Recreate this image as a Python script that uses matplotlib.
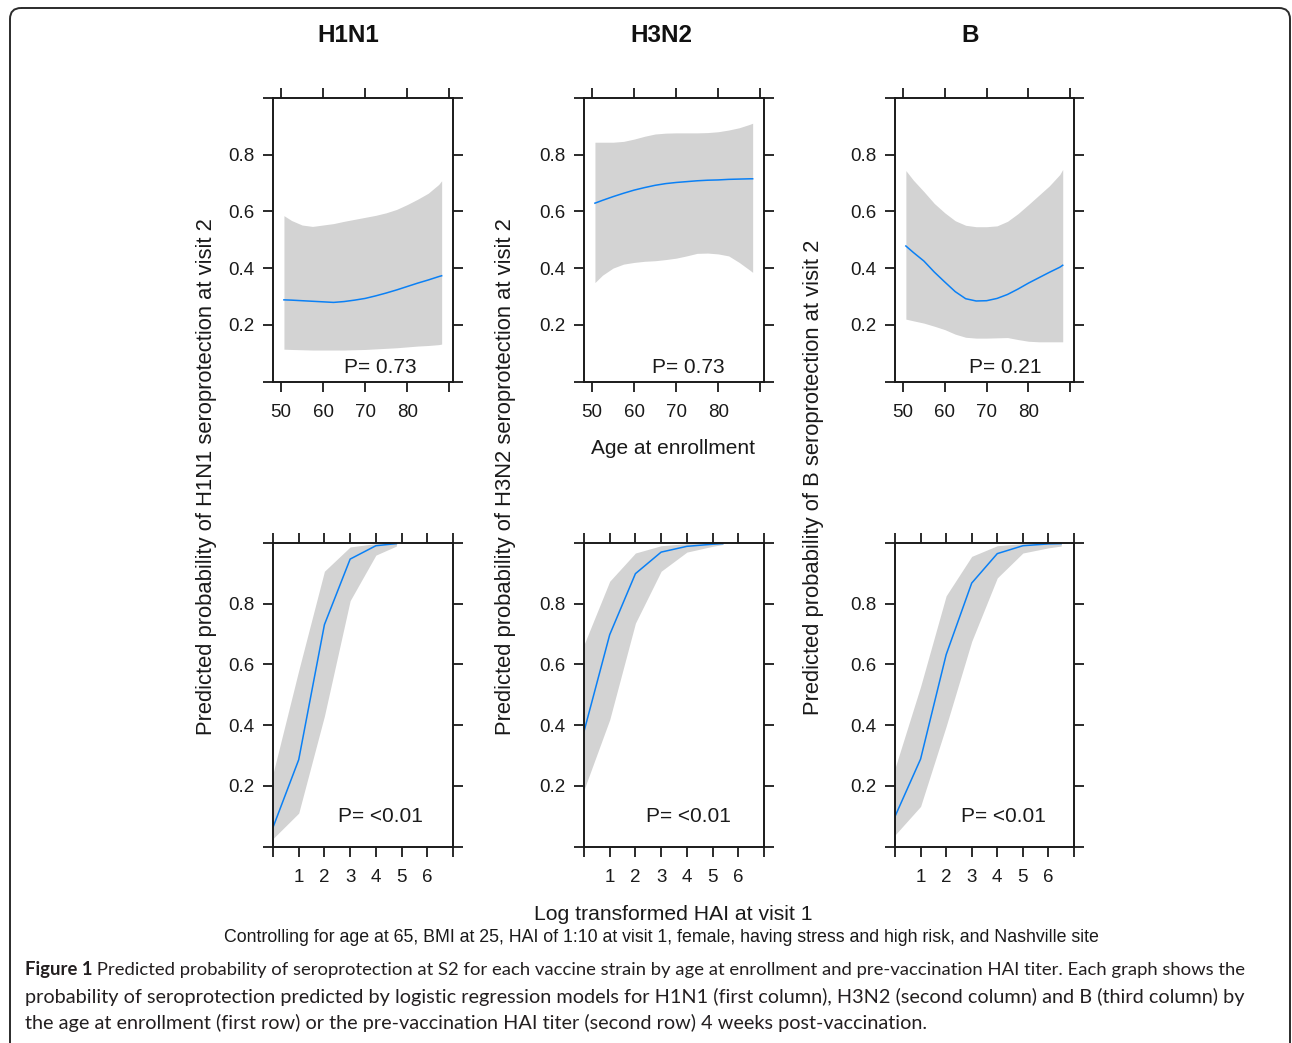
import matplotlib
matplotlib.use('Agg')
import matplotlib.pyplot as plt
from matplotlib.patches import FancyBboxPatch
from matplotlib import font_manager as fm

# ---------------- data ----------------
strains = ['H1N1', 'H3N2', 'B']
p_age = ['P= 0.73', 'P= 0.73', 'P= 0.21']
p_hai = ['P= <0.01', 'P= <0.01', 'P= <0.01']

age_ticks = [50, 60, 70, 80, 90]
age_ticklabels = ['50', '60', '70', '80', '']
hai_ticks = [0, 1, 2, 3, 4, 5, 6, 7]
hai_ticklabels = ['', '1', '2', '3', '4', '5', '6', '']
prob_ticks = [0.0, 0.2, 0.4, 0.6, 0.8, 1.0]
prob_ticklabels = ['', '0.2', '0.4', '0.6', '0.8', '']

age_x = [50.7, 52.5, 55, 57.5, 60, 62.5, 65, 67.5, 70, 72.5, 75, 77.5, 80, 82.5, 85, 87.5, 88.2]
h1n1_age_fit = [0.288, 0.287, 0.285, 0.283, 0.281, 0.279, 0.282, 0.287, 0.293, 0.302, 0.312, 0.323,
                0.335, 0.347, 0.358, 0.370, 0.373]
h1n1_age_lo = [0.114, 0.113, 0.112, 0.111, 0.111, 0.111, 0.111, 0.112, 0.113, 0.115, 0.117, 0.119,
               0.122, 0.125, 0.127, 0.130, 0.132]
h1n1_age_hi = [0.585, 0.568, 0.552, 0.547, 0.552, 0.557, 0.565, 0.572, 0.579, 0.586, 0.595, 0.607,
               0.624, 0.643, 0.664, 0.695, 0.708]

h3n2_age_fit = [0.629, 0.639, 0.652, 0.664, 0.675, 0.684, 0.692, 0.698, 0.702, 0.705, 0.708, 0.710,
                0.711, 0.713, 0.714, 0.715, 0.715]
h3n2_age_lo = [0.349, 0.375, 0.400, 0.414, 0.420, 0.424, 0.426, 0.430, 0.435, 0.443, 0.452, 0.453,
               0.450, 0.443, 0.420, 0.393, 0.385]
h3n2_age_hi = [0.844, 0.844, 0.844, 0.847, 0.855, 0.865, 0.873, 0.876, 0.877, 0.877, 0.877, 0.878,
               0.881, 0.887, 0.895, 0.907, 0.911]

b_age_fit = [0.478, 0.455, 0.425, 0.386, 0.351, 0.317, 0.292, 0.284, 0.285, 0.293, 0.307, 0.326,
             0.347, 0.366, 0.385, 0.403, 0.410]
b_age_lo = [0.220, 0.214, 0.206, 0.195, 0.183, 0.167, 0.156, 0.153, 0.153, 0.154, 0.155, 0.148,
            0.142, 0.140, 0.140, 0.140, 0.140]
b_age_hi = [0.744, 0.710, 0.670, 0.628, 0.595, 0.567, 0.551, 0.546, 0.546, 0.549, 0.565, 0.592,
            0.624, 0.657, 0.690, 0.730, 0.748]

h1n1_hai_x = [0, 1, 2, 3, 4, 4.8]
h1n1_hai_fit = [0.063, 0.286, 0.731, 0.947, 0.991, 0.998]
h1n1_hai_lo = [0.026, 0.110, 0.430, 0.810, 0.960, 0.990]
h1n1_hai_hi = [0.240, 0.580, 0.907, 0.987, 0.998, 1.000]

h3n2_hai_x = [0, 1, 2, 3, 4, 5, 5.4]
h3n2_hai_fit = [0.379, 0.698, 0.899, 0.970, 0.989, 0.996, 0.998]
h3n2_hai_lo = [0.187, 0.418, 0.736, 0.907, 0.970, 0.989, 0.995]
h3n2_hai_hi = [0.665, 0.874, 0.967, 0.991, 0.998, 0.999, 0.999]

b_hai_x = [0, 1, 2, 3, 4, 5, 6, 6.5]
b_hai_fit = [0.099, 0.288, 0.632, 0.868, 0.965, 0.991, 0.997, 0.998]
b_hai_lo = [0.038, 0.132, 0.396, 0.676, 0.885, 0.967, 0.984, 0.990]
b_hai_hi = [0.258, 0.527, 0.826, 0.956, 0.991, 0.998, 0.999, 0.999]

age_series = [
    (age_x, h1n1_age_fit, h1n1_age_lo, h1n1_age_hi),
    (age_x, h3n2_age_fit, h3n2_age_lo, h3n2_age_hi),
    (age_x, b_age_fit, b_age_lo, b_age_hi),
]
hai_series = [
    (h1n1_hai_x, h1n1_hai_fit, h1n1_hai_lo, h1n1_hai_hi),
    (h3n2_hai_x, h3n2_hai_fit, h3n2_hai_lo, h3n2_hai_hi),
    (b_hai_x, b_hai_fit, b_hai_lo, b_hai_hi),
]

caption_bold = 'Figure 1'
caption_lines = [
    ' Predicted probability of seroprotection at S2 for each vaccine strain by age at enrollment and pre-vaccination HAI titer. Each graph shows the',
    'probability of seroprotection predicted by logistic regression models for H1N1 (first column), H3N2 (second column) and B (third column) by',
    'the age at enrollment (first row) or the pre-vaccination HAI titer (second row) 4 weeks post-vaccination.',
]
control_text = ('Controlling for age at 65, BMI at 25, HAI of 1:10 at visit 1, female, '
                'having stress and high risk, and Nashville site')

# ---------------- style ----------------
W, H = 1292, 1043
DPI = 100
available = {f.name for f in fm.fontManager.ttflist}
PLOT_FONT = 'Liberation Sans'
CAP_FONT = 'Lato' if 'Lato' in available else 'Open Sans'
plt.rcParams['font.family'] = [PLOT_FONT, 'DejaVu Sans']

LINE_C = '#0a80f5'
BAND_C = '#d3d3d3'
AX_C = '#1a1a1a'
TXT_C = '#1a1a1a'

fig = plt.figure(figsize=(W / DPI, H / DPI), dpi=DPI)

# background axes in pixel coordinates for the border and free text
bg = fig.add_axes([0, 0, 1, 1])
bg.set_xlim(0, W)
bg.set_ylim(H, 0)
bg.axis('off')
bg.add_patch(FancyBboxPatch((10, 8), 1280, 1060, boxstyle='round,pad=0,rounding_size=11',
                            fc='none', ec='#2b2b2b', lw=1.4))


def rect(left, top, right, bottom):
    return [left / W, 1 - bottom / H, (right - left) / W, (bottom - top) / H]


col_lr = [(273, 453), (584, 764), (895, 1074)]
row_tb = [(98, 381.5), (543, 846.5)]
ptxt_top = [(0.597, 0.048), (0.578, 0.048), (0.614, 0.048)]
ptxt_bot = [(0.597, 0.10), (0.58, 0.10), (0.608, 0.10)]


def style(ax, xticks, xlabels, xlim):
    ax.set_xlim(*xlim)
    ax.set_ylim(0, 1.0)
    ax.set_xticks(xticks)
    ax.set_xticklabels(xlabels)
    ax.set_yticks(prob_ticks)
    ax.set_yticklabels(prob_ticklabels)
    for s in ax.spines.values():
        s.set_color(AX_C)
        s.set_linewidth(1.4)
    ax.tick_params(axis='both', direction='out', length=7.5, width=1.3, color=AX_C,
                   top=True, right=True, labeltop=False, labelright=False,
                   labelsize=13.5, labelcolor=TXT_C)
    ax.tick_params(axis='x', pad=9)
    ax.tick_params(axis='y', pad=6)


for i in range(3):
    l, r = col_lr[i]
    # top row: age
    ax = fig.add_axes(rect(l, row_tb[0][0], r, row_tb[0][1]))
    x, f, lo, hi = age_series[i]
    ax.fill_between(x, lo, hi, color=BAND_C, lw=0)
    ax.plot(x, f, color=LINE_C, lw=1.1)
    style(ax, age_ticks, age_ticklabels, (48.1, 90.9))
    ax.text(ptxt_top[i][0], ptxt_top[i][1], p_age[i], transform=ax.transAxes,
            ha='center', va='center', fontsize=15, color=TXT_C)
    # bottom row: HAI
    ax2 = fig.add_axes(rect(l, row_tb[1][0], r, row_tb[1][1]))
    x, f, lo, hi = hai_series[i]
    ax2.fill_between(x, lo, hi, color=BAND_C, lw=0)
    ax2.plot(x, f, color=LINE_C, lw=1.1)
    style(ax2, hai_ticks, hai_ticklabels, (0, 7))
    ax2.text(ptxt_bot[i][0], ptxt_bot[i][1], p_hai[i], transform=ax2.transAxes,
             ha='center', va='center', fontsize=15, color=TXT_C)

# titles
title_x = [348, 661, 970]
for tx, s in zip(title_x, strains):
    bg.text(tx, 36, s, ha='center', va='center', fontsize=17.5, fontweight='bold', color='#111111')

# y labels
ylab_x = [207, 506, 813]
for lx, s in zip(ylab_x, strains):
    bg.text(lx, 477, f'Predicted probability of {s} seroprotection at visit 2', rotation=90,
            ha='center', va='center', fontsize=15.8, color=TXT_C)

bg.text(673, 449, 'Age at enrollment', ha='center', va='center', fontsize=15, color=TXT_C)
bg.text(673, 914, 'Log transformed HAI at visit 1', ha='center', va='center', fontsize=15.2, color=TXT_C)
bg.text(661, 937, control_text, ha='center', va='center', fontsize=12.8, color=TXT_C)

# caption
cap_y = [970, 997, 1023]
tb = bg.text(25, cap_y[0], caption_bold, ha='left', va='center', fontsize=13.3,
             fontweight='bold', color='#231f20', family=CAP_FONT)
bg.annotate(caption_lines[0], xy=(1, 0.5), xycoords=tb, ha='left', va='center',
            fontsize=13.3, color='#231f20', family=CAP_FONT)
for yy, line in zip(cap_y[1:], caption_lines[1:]):
    bg.text(25, yy, line, ha='left', va='center', fontsize=14.3, color='#231f20', family=CAP_FONT)

fig.savefig('out.png', dpi=DPI)
